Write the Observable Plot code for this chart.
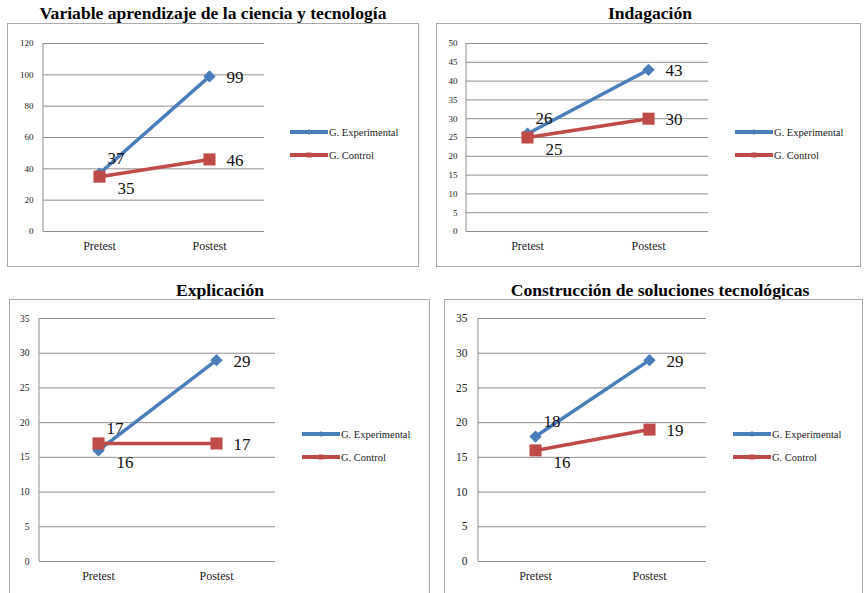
<!DOCTYPE html>
<html>
<head>
<meta charset="utf-8">
<script src="https://cdn.jsdelivr.net/npm/d3@7"></script>
<script src="https://cdn.jsdelivr.net/npm/@observablehq/plot@0.6"></script>
<style>
  html, body { margin: 0; padding: 0; background: #fff; font-family: 'Liberation Serif', serif; }
  #page { position: relative; width: 865px; height: 593px; overflow: hidden; background: #fff;
          font-family: 'Liberation Serif', serif; color: #111; }
  .title { position: absolute; width: 500px; text-align: center; font-weight: bold;
           font-family: 'Liberation Serif', serif;
           font-size: 17.6px; line-height: 18px; white-space: nowrap; color: #000; }
  .box { position: absolute; border: 1px solid #a9a9a9; box-sizing: border-box; }
  .plot { position: absolute; }
  .plot svg { overflow: visible; font-family: 'Liberation Serif', serif; }
  .legend-row { position: absolute; display: flex; align-items: center; height: 12px;
                font-family: 'Liberation Serif', serif;
                font-size: 10.5px; color: #222; white-space: nowrap; }
  .legend-row svg { display: block; margin-right: 1px; }
</style>
</head>
<body>
<div id="page"></div>
<script>
// Measurement moments and groups
const stages = ["Pretest", "Postest"];
const groups = ["G. Experimental", "G. Control"];

// Chart titles
const titles = [
  "Variable aprendizaje de la ciencia y tecnología",
  "Indagación",
  "Explicación",
  "Construcción de soluciones tecnológicas"
];

// Mean scores (Pretest, Postest) per group
const aprendizajeExperimental = [37, 99];
const aprendizajeControl = [35, 46];
const indagacionExperimental = [26, 43];
const indagacionControl = [25, 30];
const explicacionExperimental = [16, 29];
const explicacionControl = [17, 17];
const construccionExperimental = [18, 29];
const construccionControl = [16, 19];

// Y-axis tick values
const aprendizajeTicks = [0, 20, 40, 60, 80, 100, 120];
const indagacionTicks = [0, 5, 10, 15, 20, 25, 30, 35, 40, 45, 50];
const explicacionTicks = [0, 5, 10, 15, 20, 25, 30, 35];
const construccionTicks = [0, 5, 10, 15, 20, 25, 30, 35];

// Styling
const serif = "'Liberation Serif', serif";
const colors = {"G. Experimental": "#4a7ebb", "G. Control": "#be4b48"};
const gridColor = "#8e8e8e";

// Rotated-square marker used for the experimental group
const diamond = {
  draw(context, size) {
    const h = Math.sqrt(size / 2);
    context.moveTo(0, -h);
    context.lineTo(h, 0);
    context.lineTo(0, h);
    context.lineTo(-h, 0);
    context.closePath();
  }
};
const symbols = {"G. Experimental": diamond, "G. Control": "square"};

// Page placement of each panel: box, plot frame (left, right, top, bottom), legend, fonts
const panels = [
  {title: titles[0], exp: aprendizajeExperimental, ctl: aprendizajeControl, ticks: aprendizajeTicks,
   titleX: 213, titleTop: 4, box: [7, 23, 412, 244], frame: [43, 264, 43, 231],
   legend: [290, 132], tickFont: 9, tickPad: 10, xFont: 12},
  {title: titles[1], exp: indagacionExperimental, ctl: indagacionControl, ticks: indagacionTicks,
   titleX: 650, titleTop: 4, box: [436, 23, 425, 244], frame: [466, 708, 43, 231],
   legend: [735, 132], tickFont: 9, tickPad: 9, xFont: 12},
  {title: titles[2], exp: explicacionExperimental, ctl: explicacionControl, ticks: explicacionTicks,
   titleX: 220, titleTop: 281, box: [9, 299, 421, 320], frame: [39, 275, 318, 561],
   legend: [302, 434], tickFont: 9.5, tickPad: 10, xFont: 12},
  {title: titles[3], exp: construccionExperimental, ctl: construccionControl, ticks: construccionTicks,
   titleX: 660, titleTop: 281, box: [444, 299, 419, 320], frame: [478, 706, 318, 561],
   legend: [733, 434], tickFont: 11.5, tickPad: 11, xFont: 12}
];

const page = document.getElementById("page");
const svgNS = "http://www.w3.org/2000/svg";

// Vertical value-axis line along the left edge of the frame
function valueAxisLine(index, scales, values, dims) {
  const line = document.createElementNS(svgNS, "line");
  line.setAttribute("x1", dims.marginLeft);
  line.setAttribute("x2", dims.marginLeft);
  line.setAttribute("y1", dims.marginTop);
  line.setAttribute("y2", dims.height - dims.marginBottom);
  line.setAttribute("stroke", gridColor);
  return line;
}

function legendSwatch(group) {
  const svg = document.createElementNS(svgNS, "svg");
  svg.setAttribute("width", 38);
  svg.setAttribute("height", 10);
  const line = document.createElementNS(svgNS, "line");
  line.setAttribute("x1", 0); line.setAttribute("x2", 38);
  line.setAttribute("y1", 5); line.setAttribute("y2", 5);
  line.setAttribute("stroke", colors[group]);
  line.setAttribute("stroke-width", 4);
  svg.appendChild(line);
  const marker = document.createElementNS(svgNS, "path");
  marker.setAttribute("d", group === groups[0] ? "M19,2L22,5L19,8L16,5Z" : "M16.5,2.5h5v5h-5Z");
  marker.setAttribute("fill", colors[group]);
  svg.appendChild(marker);
  return svg;
}

function drawPanel(p) {
  const title = document.createElement("div");
  title.className = "title";
  title.textContent = p.title;
  title.style.left = (p.titleX - 250) + "px";
  title.style.top = p.titleTop + "px";
  page.appendChild(title);

  const box = document.createElement("div");
  box.className = "box";
  box.style.left = p.box[0] + "px";
  box.style.top = p.box[1] + "px";
  box.style.width = p.box[2] + "px";
  box.style.height = p.box[3] + "px";
  page.appendChild(box);

  const rows = [];
  stages.forEach((s, i) => {
    rows.push({stage: s, group: groups[0], value: p.exp[i]});
    rows.push({stage: s, group: groups[1], value: p.ctl[i]});
  });
  const pre = rows.filter(d => d.stage === stages[0]);
  const upper = pre.reduce((a, b) => (b.value > a.value ? b : a));
  const lower = pre.find(d => d !== upper);
  const post = rows.filter(d => d.stage === stages[1]);

  const [fl, fr, ft, fb] = p.frame;
  const mL = 40, mR = 12, mT = 20, mB = 30;

  const seriesMarks = groups.flatMap(g => {
    const data = rows.filter(d => d.group === g);
    return [
      Plot.lineY(data, {x: "stage", y: "value", stroke: colors[g], strokeWidth: 3.5}),
      Plot.dot(data, {x: "stage", y: "value", fill: colors[g], stroke: "none",
                      symbol: () => symbols[g], r: g === groups[0] ? 4.9 : 6.8})
    ];
  });

  const chart = Plot.plot({
    width: fr - fl + mL + mR,
    height: fb - ft + mT + mB,
    marginLeft: mL, marginRight: mR, marginTop: mT, marginBottom: mB,
    style: {fontFamily: serif, background: "transparent", color: "#222"},
    x: {type: "point", domain: stages, padding: 0.5},
    y: {domain: [0, d3.max(p.ticks)]},
    symbol: {type: "identity"},
    marks: [
      Plot.gridY(p.ticks, {stroke: gridColor, strokeOpacity: 1}),
      valueAxisLine,
      Plot.axisY(p.ticks, {tickSize: 0, tickPadding: p.tickPad, fontSize: p.tickFont, label: null, fontFamily: serif}),
      Plot.axisX({tickSize: 0, tickPadding: 10, fontSize: p.xFont, label: null, fontFamily: serif}),
      ...seriesMarks,
      Plot.text([upper], {x: "stage", y: "value", text: d => String(d.value), fontSize: 17,
                          fontFamily: serif, textAnchor: "start", dx: 8, dy: -15, fill: "#111"}),
      Plot.text([lower], {x: "stage", y: "value", text: d => String(d.value), fontSize: 17,
                          fontFamily: serif, textAnchor: "start", dx: 18, dy: 12, fill: "#111"}),
      Plot.text(post, {x: "stage", y: "value", text: d => String(d.value), fontSize: 17,
                       fontFamily: serif, textAnchor: "start", dx: 17, dy: 1, fill: "#111"})
    ]
  });
  const holder = document.createElement("div");
  holder.className = "plot";
  holder.style.left = (fl - mL) + "px";
  holder.style.top = (ft - mT) + "px";
  holder.appendChild(chart);
  page.appendChild(holder);

  groups.forEach((g, i) => {
    const row = document.createElement("div");
    row.className = "legend-row";
    row.style.left = p.legend[0] + "px";
    row.style.top = (p.legend[1] + i * 23 - 6) + "px";
    row.appendChild(legendSwatch(g));
    const label = document.createElement("span");
    label.textContent = g;
    row.appendChild(label);
    page.appendChild(row);
  });
}

panels.forEach(drawPanel);
</script>
</body>
</html>
